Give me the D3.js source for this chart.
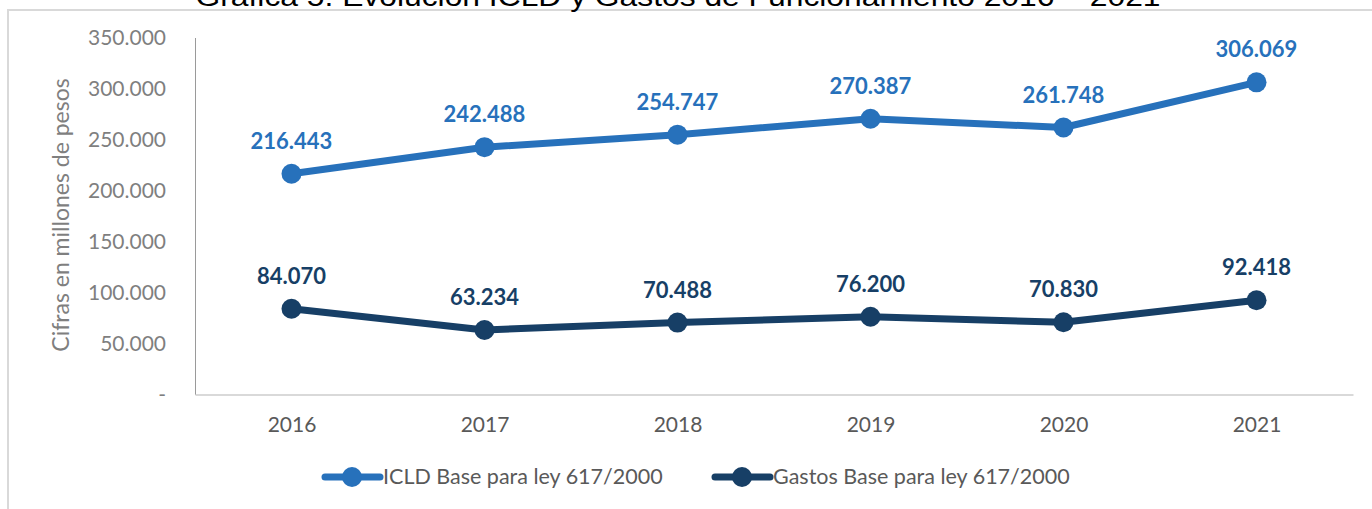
<!DOCTYPE html>
<html>
<head>
<meta charset="utf-8">
<script src="https://cdn.jsdelivr.net/npm/d3@7"></script>
<style>
  body { margin: 0; background: #fff; }
  svg { display: block; }
</style>
</head>
<body>
<div id="c1"></div>
<script>
// Data
var years = ["2016", "2017", "2018", "2019", "2020", "2021"];
var icld = [216443, 242488, 254747, 270387, 261748, 306069];
var gastos = [84070, 63234, 70488, 76200, 70830, 92418];
var yTicks = [0, 50000, 100000, 150000, 200000, 250000, 300000, 350000];
var seriesNames = ["ICLD Base para ley 617/2000", "Gastos Base para ley 617/2000"];
var colors = ["#2771bb", "#173f66"];

var w = 1372, h = 509;
var font = "Lato, 'Open Sans', sans-serif";

var locale = d3.formatLocale({decimal: ",", thousands: ".", grouping: [3], currency: ["$", ""]});
var fmt = locale.format(",");

var svg = d3.select("#c1").append("svg")
    .attr("width", w)
    .attr("height", h);

// outer frame (only top and left visible)
svg.append("rect")
    .attr("x", 8).attr("y", 10)
    .attr("width", w + 20).attr("height", h + 20)
    .attr("fill", "none")
    .attr("stroke", "#d9d9d9")
    .attr("stroke-width", 2);

// title, cut off at the top like in the source picture
svg.append("text")
    .attr("x", 678).attr("y", 6)
    .attr("text-anchor", "middle")
    .attr("font-family", "'Liberation Sans', Arial, sans-serif")
    .attr("font-size", 27)
    .attr("fill", "#000")
    .attr("textLength", 965)
    .attr("lengthAdjust", "spacingAndGlyphs")
    .text("Gráfica 5. Evolución ICLD y Gastos de Funcionamiento 2016 – 2021");

var x = d3.scalePoint().domain(years).range([195, 1353]).padding(0.5);
var y = d3.scaleLinear().domain([0, 350000]).range([394.5, 37.5]);

// y axis
var gy = svg.append("g")
    .attr("transform", "translate(195,0)")
    .call(d3.axisLeft(y).tickValues(yTicks).tickSize(0).tickPadding(29)
        .tickFormat(function (d) { return d === 0 ? "-" : fmt(d); }));
gy.select(".domain").attr("stroke", "#9a9a9a").attr("stroke-width", 1);
gy.selectAll("text")
    .attr("font-family", font)
    .attr("font-size", 21)
    .attr("fill", "#7f7f7f");

// x axis
var gx = svg.append("g")
    .attr("transform", "translate(0,394.5)")
    .call(d3.axisBottom(x).tickSize(0).tickPadding(23));
gx.select(".domain").attr("stroke", "#d9d9d9").attr("stroke-width", 2);
gx.selectAll("text")
    .attr("font-family", font)
    .attr("font-size", 21)
    .attr("fill", "#595959");

// y title
svg.append("text")
    .attr("transform", "translate(69,215) rotate(-90)")
    .attr("text-anchor", "middle")
    .attr("font-family", font)
    .attr("font-size", 23)
    .attr("fill", "#7f7f7f")
    .text("Cifras en millones de pesos");

// series
var series = [icld, gastos];
var line = d3.line()
    .x(function (d, i) { return x(years[i]); })
    .y(function (d) { return y(d); });

series.forEach(function (vals, s) {
    svg.append("path")
        .datum(vals)
        .attr("d", line)
        .attr("fill", "none")
        .attr("stroke", colors[s])
        .attr("stroke-width", 7)
        .attr("stroke-linejoin", "round");

    svg.selectAll("circle.s" + s)
        .data(vals)
        .enter()
        .append("circle")
        .attr("class", "s" + s)
        .attr("cx", function (d, i) { return x(years[i]); })
        .attr("cy", function (d) { return y(d); })
        .attr("r", 10)
        .attr("fill", colors[s]);

    svg.selectAll("text.l" + s)
        .data(vals)
        .enter()
        .append("text")
        .attr("class", "l" + s)
        .attr("x", function (d, i) { return x(years[i]); })
        .attr("y", function (d) { return y(d) - 25; })
        .attr("text-anchor", "middle")
        .attr("font-family", font)
        .attr("font-weight", 700)
        .attr("font-size", 22)
        .attr("fill", colors[s])
        .text(function (d) { return fmt(d); });
});

// legend
var legX = [325, 715];
seriesNames.forEach(function (name, s) {
    var g = svg.append("g").attr("transform", "translate(" + legX[s] + ",477)");
    g.append("line")
        .attr("x1", 0).attr("x2", 55)
        .attr("stroke", colors[s])
        .attr("stroke-width", 7)
        .attr("stroke-linecap", "round");
    g.append("circle")
        .attr("cx", 27).attr("r", 10)
        .attr("fill", colors[s]);
    g.append("text")
        .attr("x", 58).attr("y", 7)
        .attr("font-family", font)
        .attr("font-size", 21.5)
        .attr("fill", "#595959")
        .text(name);
});
</script>
</body>
</html>
